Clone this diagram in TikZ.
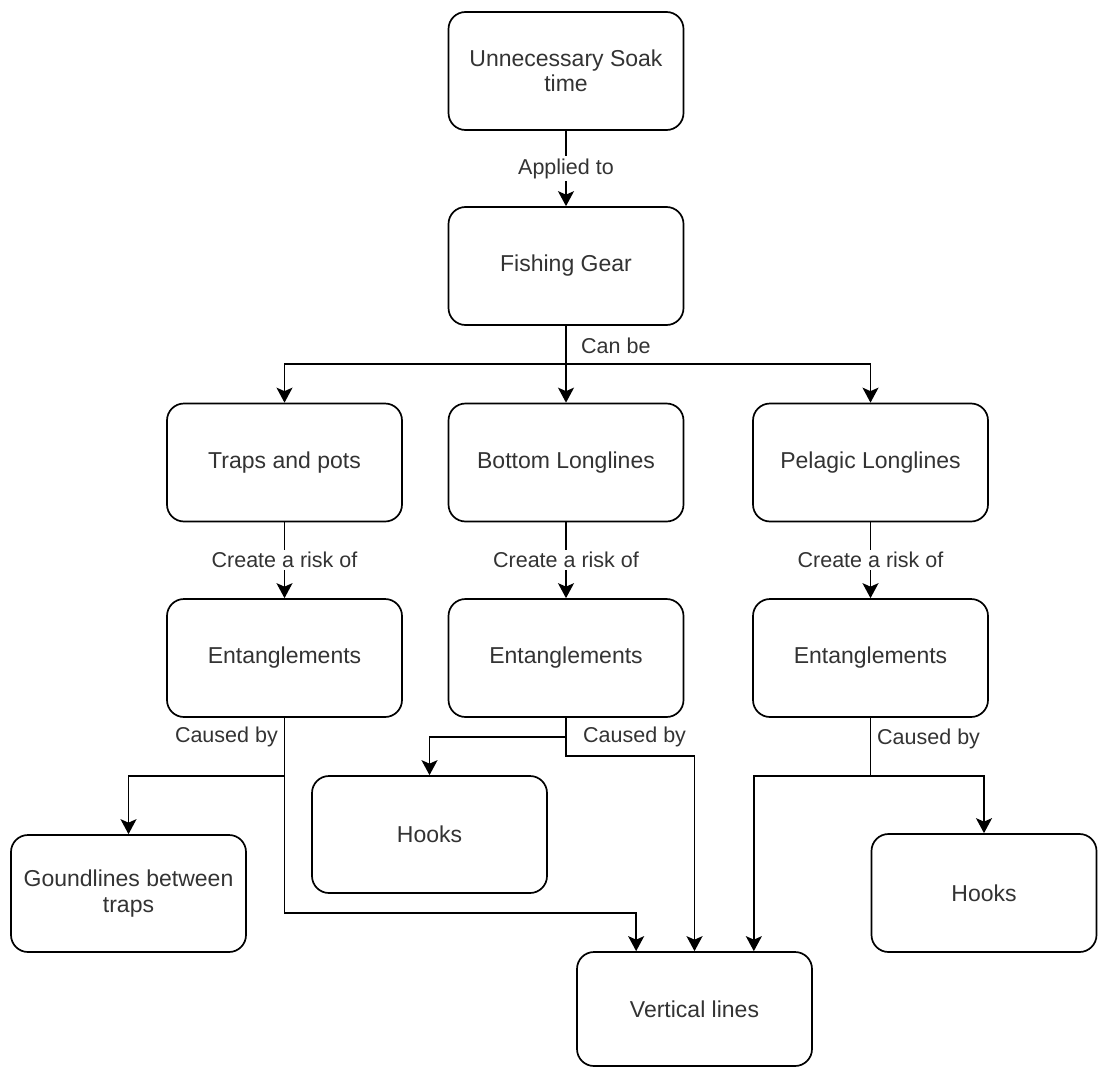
\documentclass[tikz,border=0pt]{standalone}
\usepackage{fontspec}
\setmainfont{Liberation Sans}
\usetikzlibrary{arrows.meta,calc}
\begin{document}
\begin{tikzpicture}[x=1pt,y=-1pt,
  box/.style={draw=black, rounded corners=17pt, line width=1.7pt, minimum width=235pt, minimum height=118pt, align=center, inner sep=0pt, font=\fontsize{23}{25.5}\selectfont, text=black!80},
  conn/.style={line width=1.7pt, -{Stealth[length=15pt,width=16pt,inset=3.5pt]}},
  wire/.style={line width=1.7pt},
  lbl/.style={font=\fontsize{21.5}{24}\selectfont, text=black!80, inner sep=1pt},
  lblw/.style={lbl, fill=white, inner sep=2pt}]
\useasboundingbox (0,0) rectangle (1098,1068);
\fill[white] (0,0) rectangle (1098,1068);

\node[box] (soak) at (566,71) {Unnecessary Soak\\time};
\node[box] (gear) at (566,266) {Fishing Gear};
\node[box] (traps) at (284.5,462.5) {Traps and pots};
\node[box] (bottom) at (566,462.5) {Bottom Longlines};
\node[box] (pelagic) at (870.5,462.5) {Pelagic Longlines};
\node[box] (ent1) at (284.5,658) {Entanglements};
\node[box] (ent2) at (566,658) {Entanglements};
\node[box] (ent3) at (870.5,658) {Entanglements};
\node[box, minimum height=117pt] (hooks1) at (429.5,834.5) {Hooks};
\node[box, minimum height=117pt] (ground) at (128.5,893.5) {Goundlines between\\traps};
\node[box, minimum width=225pt] (hooks2) at (984,893) {Hooks};
\node[box, minimum height=114pt] (vert) at (694.5,1009) {Vertical lines};

% top
\draw[conn] (soak) -- node[lblw] (applied) {Applied to} (gear);

% fishing gear split
\coordinate (gj) at (gear.south |- 0,364);
\draw[wire] (gear.south) -- (gj);
\draw[conn] (gj) -| (traps.north);
\draw[conn] (gj) -- (bottom.north);
\draw[conn] (gj) -| (pelagic.north);
\node[lbl, anchor=west] (canbe) at (580,346) {Can be};

% create a risk of
\draw[conn] (traps) -- node[lblw] (cr1) {Create a risk of} (ent1);
\draw[conn] (bottom) -- node[lblw] (cr2) {Create a risk of} (ent2);
\draw[conn] (pelagic) -- node[lblw] (cr3) {Create a risk of} (ent3);

% entanglements 1
\coordinate (j1) at (ent1.south |- 0,776);
\coordinate (j1b) at (ent1.south |- 0,913);
\draw[wire] (ent1.south) -- (j1);
\draw[conn] (j1) -| (ground.north);
\draw[conn] (j1) -- (j1b) -| ($(vert.north west)+(60,0)$);
\node[lbl, anchor=east] (cb1) at (279,737) {Caused by};

% entanglements 2
\coordinate (j2) at (ent2.south |- 0,737);
\coordinate (j2b) at (ent2.south |- 0,756);
\draw[wire] (ent2.south) -- (j2);
\draw[conn] (j2) -| (hooks1.north);
\draw[conn] (j2) -- (j2b) -| (vert.north);
\node[lbl, anchor=west] (cb2) at (582,737) {Caused by};

% entanglements 3
\coordinate (j3) at (ent3.south |- 0,776);
\draw[wire] (ent3.south) -- (j3);
\draw[conn] (j3) -| ($(vert.north east)+(-59,0)$);
\draw[conn] (j3) -| (hooks2.north);
\node[lbl, anchor=west] (cb3) at (876,739) {Caused by};
\end{tikzpicture}
\end{document}
